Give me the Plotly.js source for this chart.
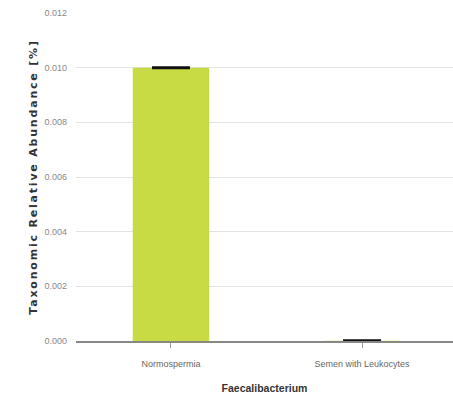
<!DOCTYPE html>
<html><head><meta charset="utf-8">
<script src="https://cdn.plot.ly/plotly-3.0.1.min.js"></script>
<style>html,body{margin:0;padding:0;background:#fff;overflow:hidden}</style>
</head><body>
<div id="chart" style="width:453px;height:401px"></div>
<script>
const categories = ["Normospermia", "Semen with Leukocytes"];
const values = [0.0100, 0.00001];
const errors = [0, 0];
const yTicks = [0, 0.002, 0.004, 0.006, 0.008, 0.010, 0.012];
const yTickText = ["0.000", "0.002", "0.004", "0.006", "0.008", "0.010", "0.012"];

const trace = {
  type: "bar",
  x: [0, 1],
  y: values,
  width: 0.40,
  marker: {color: "#c9db44", line: {width: 0}},
  error_y: {type: "data", array: errors, visible: true, color: "#111", thickness: 3, width: 19},
  hoverinfo: "none"
};

const layout = {
  width: 453, height: 401,
  margin: {l: 76, r: 0, t: 13, b: 60},
  paper_bgcolor: "#fff", plot_bgcolor: "#fff",
  showlegend: false,
  xaxis: {
    range: [-0.497, 1.476],
    tickmode: "array", tickvals: [0, 1], ticktext: categories,
    ticks: "outside", ticklen: 5, tickcolor: "#999", tickwidth: 1,
    ticklabelstandoff: 9,
    showline: true, linecolor: "#888", linewidth: 1.5,
    showgrid: false, zeroline: false,
    tickfont: {family: "Liberation Sans, Arial, sans-serif", size: 9, color: "#666"},
    title: {text: "<b>Faecalibacterium</b>", standoff: 16,
            font: {family: "Liberation Sans, Arial, sans-serif", size: 10.5, color: "#333"}}
  },
  yaxis: {
    range: [0, 0.012],
    tickmode: "array", tickvals: yTicks, ticktext: yTickText,
    ticks: "", ticklabelstandoff: 8,
    showgrid: true, gridcolor: "#e3e3e3", gridwidth: 1,
    zeroline: false, showline: false,
    tickfont: {family: "Liberation Sans, Arial, sans-serif", size: 9, color: "#888"},
    title: {text: "<b>Taxonomic Relative Abundance [%]</b>", standoff: 4,
            font: {family: "DejaVu Sans, Verdana, sans-serif", size: 11, color: "#333"}}
  }
};

Plotly.newPlot("chart", [trace], layout, {displayModeBar: false, staticPlot: true}).then(function (gd) {
  const t = gd.querySelector(".ytitle");
  if (t) t.style.letterSpacing = "1.8px";
});
</script>
</body></html>
